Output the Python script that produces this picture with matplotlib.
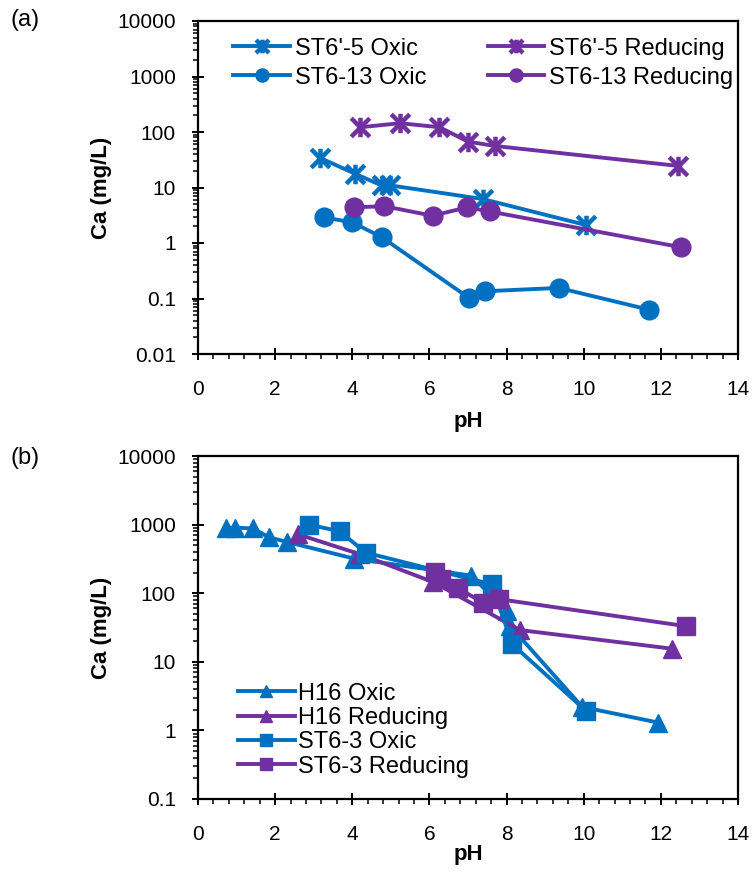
import matplotlib
matplotlib.use("Agg")
import matplotlib.pyplot as plt
from matplotlib.path import Path
from matplotlib.ticker import LogLocator, MultipleLocator, NullFormatter, FixedLocator, FixedFormatter

plt.rcParams['font.family'] = ['Liberation Sans', 'DejaVu Sans']

BLUE = '#0070C0'
PURPLE = '#7030A0'

# ---- panel (a) data ----
st65_oxic_ph = [3.17, 4.07, 4.76, 4.99, 7.38, 10.07]
st65_oxic_ca = [34, 17.7, 10.9, 10.9, 6.2, 2.1]
st65_red_ph = [4.21, 5.24, 6.26, 7.0, 7.70, 12.45]
st65_red_ca = [122, 144, 122, 67, 56, 24.5]
st613_oxic_ph = [3.26, 4.0, 4.76, 7.02, 7.44, 9.35, 11.69]
st613_oxic_ca = [2.9, 2.35, 1.28, 0.103, 0.135, 0.155, 0.063]
st613_red_ph = [4.04, 4.83, 6.08, 6.98, 7.56, 12.52]
st613_red_ca = [4.4, 4.6, 3.1, 4.4, 3.7, 0.84]

# ---- panel (b) data ----
h16_oxic_ph = [0.72, 0.95, 1.42, 1.85, 2.3, 4.04, 7.09, 8.0, 8.1, 9.96, 11.93]
h16_oxic_ca = [880, 900, 880, 650, 560, 320, 180, 55, 33, 2.2, 1.3]
h16_red_ph = [2.6, 4.2, 6.1, 8.35, 12.3]
h16_red_ca = [720, 370, 145, 29, 15.5]
st63_oxic_ph = [2.87, 3.67, 4.35, 7.61, 8.15, 10.07]
st63_oxic_ca = [1000, 800, 390, 135, 18, 1.9]
st63_red_ph = [6.15, 6.3, 6.75, 7.4, 7.8, 12.66]
st63_red_ca = [205, 160, 118, 72, 82, 33]

xticks = [0, 2, 4, 6, 8, 10, 12, 14]

# asterisk-like marker (X with a vertical bar)
star = Path([(-1, -1), (1, 1), (-1, 1), (1, -1), (0, -1.05), (0, 1.05)],
            [Path.MOVETO, Path.LINETO] * 3)

W, H = 756, 876
fig = plt.figure(figsize=(W / 100, H / 100), dpi=100)


def style_axes(ax, ymin, ymax, xlab_y):
    ax.set_yscale('log')
    ax.set_xlim(0, 14)
    ax.set_ylim(ymin, ymax)
    ax.xaxis.set_major_locator(FixedLocator(xticks))
    ax.xaxis.set_major_formatter(FixedFormatter([str(t) for t in xticks]))
    ax.xaxis.set_minor_locator(MultipleLocator(0.4))
    ax.yaxis.set_major_locator(LogLocator(base=10, numticks=20))
    ax.yaxis.set_minor_locator(LogLocator(base=10, subs=range(2, 10), numticks=20))
    ax.yaxis.set_minor_formatter(NullFormatter())
    ax.yaxis.set_major_formatter(plt.FuncFormatter(lambda v, p: ('%g' % v)))
    for s in ax.spines.values():
        s.set_linewidth(1.6)
    ax.tick_params(axis='both', which='major', direction='inout', length=8, width=1.4,
                   labelsize=15)
    ax.tick_params(axis='x', which='major', pad=15)
    ax.tick_params(axis='y', which='major', pad=12)
    ax.tick_params(axis='both', which='minor', direction='out', length=3.5, width=1.1)
    ax.set_xlabel('pH', fontsize=16, fontweight='bold')
    ax.set_ylabel('Ca (mg/L)', fontsize=16, fontweight='bold')
    ax.xaxis.set_label_coords(0.5, xlab_y)
    ax.yaxis.set_label_coords(-0.16, 0.5)


lw = 2.8
ms = 13.5

# ---- panel (a) ----
ax1 = fig.add_axes([198 / W, 1 - 354 / H, 540 / W, 333 / H])
style_axes(ax1, 0.01, 10000, -0.17)
l1, = ax1.plot(st65_oxic_ph, st65_oxic_ca, color=BLUE, lw=lw, marker=star, ms=14,
               mew=3.2, label="ST6'-5 Oxic")
l2, = ax1.plot(st613_oxic_ph, st613_oxic_ca, color=BLUE, lw=lw, marker='o', ms=ms,
               label='ST6-13 Oxic')
l3, = ax1.plot(st65_red_ph, st65_red_ca, color=PURPLE, lw=lw, marker=star, ms=14,
               mew=3.2, label="ST6'-5 Reducing")
l4, = ax1.plot(st613_red_ph, st613_red_ca, color=PURPLE, lw=lw, marker='o', ms=ms,
               label='ST6-13 Reducing')
ax1.legend(handles=[l1, l2, l3, l4], ncol=2, loc='upper left', frameon=False,
           bbox_to_anchor=(0.035, 1.0), fontsize=17, handlelength=2.4,
           handletextpad=0.2, columnspacing=2.6, labelspacing=0.3,
           borderaxespad=0.3, markerscale=0.7)
fig.text(10 / W, 1 - 20 / H, '(a)', fontsize=17, va='center', ha='left')

# ---- panel (b) ----
ax2 = fig.add_axes([198 / W, 1 - 799 / H, 540 / W, 343 / H])
style_axes(ax2, 0.1, 10000, -0.13)
m1, = ax2.plot(h16_oxic_ph, h16_oxic_ca, color=BLUE, lw=lw, marker='^', ms=ms,
               label='H16 Oxic')
m2, = ax2.plot(h16_red_ph, h16_red_ca, color=PURPLE, lw=lw, marker='^', ms=ms,
               label='H16 Reducing')
m3, = ax2.plot(st63_oxic_ph, st63_oxic_ca, color=BLUE, lw=lw, marker='s', ms=ms,
               label='ST6-3 Oxic')
m4, = ax2.plot(st63_red_ph, st63_red_ca, color=PURPLE, lw=lw, marker='s', ms=ms,
               label='ST6-3 Reducing')
ax2.legend(handles=[m1, m2, m3, m4], loc='lower left', frameon=False,
           bbox_to_anchor=(0.035, 0.0), fontsize=17, handlelength=2.4,
           handletextpad=0.15, labelspacing=0.1, markerscale=0.6)
fig.text(10 / W, 1 - 458 / H, '(b)', fontsize=17, va='center', ha='left')

fig.savefig('out.png', dpi=100)
